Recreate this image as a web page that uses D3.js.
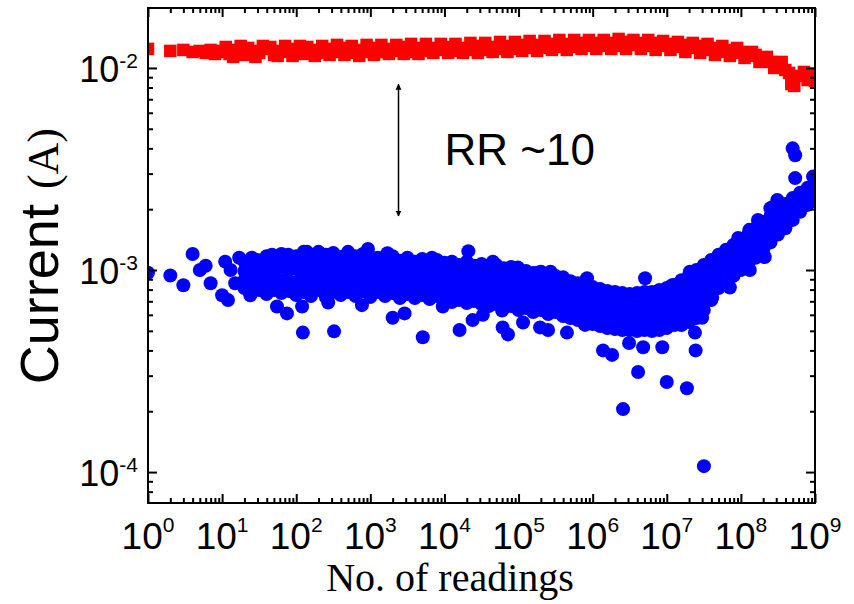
<!DOCTYPE html>
<html>
<head>
<meta charset="utf-8">
<script src="https://cdn.jsdelivr.net/npm/d3@7"></script>
<style>
  html, body { margin: 0; padding: 0; background: #fff; }
  svg { display: block; }
</style>
</head>
<body>
<svg id="chart" width="854" height="604"></svg>
<script>
// ---------------- DATA ----------------
const xDomain = [1, 1e9];
const yDomain = [7.03e-5, 1.98e-2];
const xMajorTicks = [1e0, 1e1, 1e2, 1e3, 1e4, 1e5, 1e6, 1e7, 1e8, 1e9];
const xTickExponents = ["0", "1", "2", "3", "4", "5", "6", "7", "8", "9"];
const yMajorTicks = [1e-4, 1e-3, 1e-2];
const yTickExponents = ["-4", "-3", "-2"];

// Red squares: ON-state current [readings, current (A)]
const redSeries = [
  [1, 1.242e-2], [2, 1.214e-2], [3, 1.228e-2], [4, 1.200e-2], [5, 1.214e-2],
  [6, 1.187e-2], [7, 1.228e-2], [8, 1.173e-2], [9, 1.214e-2],
  [1.00e1, 1.200e-2], [1.26e1, 1.173e-2], [1.58e1, 1.228e-2], [2.00e1, 1.160e-2], [2.51e1, 1.214e-2],
  [3.16e1, 1.187e-2], [3.98e1, 1.242e-2], [5.01e1, 1.160e-2], [6.31e1, 1.214e-2], [7.94e1, 1.200e-2],
  [1.00e2, 1.242e-2], [1.26e2, 1.173e-2], [1.58e2, 1.228e-2], [2.00e2, 1.187e-2], [2.51e2, 1.242e-2],
  [3.16e2, 1.200e-2], [3.98e2, 1.256e-2], [5.01e2, 1.187e-2], [6.31e2, 1.228e-2], [7.94e2, 1.200e-2],
  [1.00e3, 1.256e-2], [1.26e3, 1.200e-2], [1.58e3, 1.242e-2], [2.00e3, 1.214e-2], [2.51e3, 1.270e-2],
  [3.16e3, 1.200e-2], [3.98e3, 1.256e-2], [5.01e3, 1.214e-2], [6.31e3, 1.256e-2], [7.94e3, 1.228e-2],
  [1.00e4, 1.270e-2], [1.26e4, 1.214e-2], [1.58e4, 1.256e-2], [2.00e4, 1.228e-2], [2.51e4, 1.285e-2],
  [3.16e4, 1.228e-2], [3.98e4, 1.270e-2], [5.01e4, 1.242e-2], [6.31e4, 1.285e-2], [7.94e4, 1.242e-2],
  [1.00e5, 1.300e-2], [1.26e5, 1.256e-2], [1.58e5, 1.300e-2], [2.00e5, 1.256e-2], [2.51e5, 1.315e-2],
  [3.16e5, 1.270e-2], [3.98e5, 1.315e-2], [5.01e5, 1.270e-2], [6.31e5, 1.330e-2], [7.94e5, 1.285e-2],
  [1.00e6, 1.330e-2], [1.26e6, 1.285e-2], [1.58e6, 1.330e-2], [2.00e6, 1.285e-2], [2.51e6, 1.345e-2],
  [3.16e6, 1.300e-2], [3.98e6, 1.330e-2], [5.01e6, 1.285e-2], [6.31e6, 1.330e-2], [7.94e6, 1.285e-2],
  [1.00e7, 1.315e-2], [1.26e7, 1.270e-2], [1.58e7, 1.300e-2], [2.00e7, 1.256e-2], [2.51e7, 1.285e-2],
  [3.16e7, 1.228e-2], [3.98e7, 1.256e-2], [5.01e7, 1.200e-2], [6.31e7, 1.228e-2], [7.94e7, 1.187e-2],
  [1.00e8, 1.200e-2], [1.26e8, 1.147e-2], [1.58e8, 1.160e-2], [2.00e8, 1.095e-2], [2.51e8, 1.071e-2],
  [3.16e8, 1.023e-2], [3.98e8, 0.977e-2], [4.47e8, 0.945e-2], [4.79e8, 0.833e-2], [5.01e8, 0.892e-2],
  [5.25e8, 0.815e-2], [6.31e8, 0.913e-2], [7.08e8, 0.955e-2], [7.94e8, 0.872e-2], [8.91e8, 0.934e-2],
  [1.00e9, 0.862e-2],
  // intermediate readings
  [1.12e1, 1.270e-2], [1.41e1, 1.134e-2], [1.78e1, 1.285e-2], [2.24e1, 1.256e-2], [2.82e1, 1.134e-2],
  [3.55e1, 1.285e-2], [4.47e1, 1.270e-2], [5.62e1, 1.147e-2], [7.08e1, 1.285e-2], [8.91e1, 1.147e-2],
  [1.12e2, 1.285e-2], [1.41e2, 1.270e-2], [1.78e2, 1.147e-2], [2.24e2, 1.285e-2], [2.82e2, 1.160e-2],
  [3.55e2, 1.300e-2], [4.47e2, 1.160e-2], [5.62e2, 1.285e-2], [7.08e2, 1.147e-2], [8.91e2, 1.300e-2],
  [1.12e3, 1.160e-2], [1.41e3, 1.300e-2], [1.78e3, 1.173e-2], [2.24e3, 1.300e-2], [2.82e3, 1.173e-2],
  [3.55e3, 1.315e-2], [4.47e3, 1.173e-2], [5.62e3, 1.315e-2], [7.08e3, 1.187e-2], [8.91e3, 1.315e-2],
  [1.12e4, 1.187e-2], [1.41e4, 1.315e-2], [1.78e4, 1.187e-2], [2.24e4, 1.330e-2], [2.82e4, 1.187e-2],
  [3.55e4, 1.330e-2], [4.47e4, 1.200e-2], [5.62e4, 1.345e-2], [7.08e4, 1.200e-2], [8.91e4, 1.345e-2],
  [1.12e5, 1.214e-2], [1.41e5, 1.360e-2], [1.78e5, 1.214e-2], [2.24e5, 1.360e-2], [2.82e5, 1.228e-2],
  [3.55e5, 1.376e-2], [4.47e5, 1.228e-2], [5.62e5, 1.376e-2], [7.08e5, 1.242e-2], [8.91e5, 1.376e-2],
  [1.12e6, 1.242e-2], [1.41e6, 1.376e-2], [1.78e6, 1.242e-2], [2.24e6, 1.392e-2], [2.82e6, 1.242e-2],
  [3.55e6, 1.376e-2], [4.47e6, 1.242e-2], [5.62e6, 1.376e-2], [7.08e6, 1.228e-2], [8.91e6, 1.360e-2],
  [1.12e7, 1.228e-2], [1.41e7, 1.345e-2], [1.78e7, 1.200e-2], [2.24e7, 1.330e-2], [2.82e7, 1.187e-2],
  [3.55e7, 1.315e-2], [4.47e7, 1.160e-2], [5.62e7, 1.285e-2], [7.08e7, 1.147e-2], [8.91e7, 1.256e-2],
  [1.12e8, 1.121e-2], [1.41e8, 1.200e-2], [1.78e8, 1.071e-2], [2.24e8, 1.134e-2], [2.82e8, 1.000e-2],
  [3.55e8, 1.071e-2]
];

// Blue circles: OFF-state current, scattered readings [readings, current (A)]
const blueScatter = [
  [1, 9.7e-4], [2, 9.4e-4], [3, 8.4e-4], [4, 1.20e-3], [5, 1.0e-3], [6, 1.05e-3], [7, 8.6e-4],
  [10, 7.5e-4], [11, 1.10e-3], [12, 7.1e-4], [13, 1.0e-3], [15, 8.6e-4], [17, 1.15e-3],
  [24, 7.5e-4], [30, 1.12e-3], [47, 1.19e-3], [55, 6.6e-4], [75, 6.1e-4], [78, 1.19e-3],
  [120, 6.6e-4], [123, 4.9e-4], [140, 1.23e-3], [270, 6.9e-4], [324, 4.97e-4],
  [770, 6.7e-4], [930, 1.27e-3], [1.7e3, 1.21e-3], [2.0e3, 5.8e-4], [2.9e3, 6.1e-4],
  [5.1e3, 4.65e-4], [6.8e3, 1.15e-3], [9.5e3, 6.6e-4], [1.6e4, 5.05e-4], [2.1e4, 1.24e-3],
  [2.4e4, 5.65e-4], [3.3e4, 6.0e-4], [4.5e4, 1.10e-3], [6.0e4, 6.3e-4], [6.1e4, 5.2e-4],
  [7.2e4, 4.8e-4], [9.8e4, 1.03e-3], [1.15e5, 5.5e-4], [1.8e5, 9.7e-4], [1.95e5, 5.2e-4],
  [2.5e5, 5.05e-4], [2.7e5, 9.8e-4], [4.0e5, 9.2e-4], [4.5e5, 4.9e-4], [7.9e5, 5.35e-4],
  [8.4e5, 9.1e-4], [1.38e6, 4.0e-4], [1.83e6, 3.8e-4], [2.57e6, 2.05e-4], [3.1e6, 4.35e-4],
  [4.1e6, 3.13e-4], [4.8e6, 4.15e-4], [5.1e6, 9.1e-4], [8.7e6, 4.15e-4], [1.0e7, 2.79e-4],
  [1.18e7, 8.4e-4], [1.87e7, 2.6e-4], [2.05e7, 9.8e-4], [2.4e7, 4.9e-4], [2.45e7, 4.0e-4],
  [3.0e7, 5.8e-4], [3.17e7, 1.07e-4], [4.1e7, 7.3e-4], [4.2e7, 1.10e-3], [5.2e7, 1.19e-3],
  [7.1e7, 8.2e-4], [9.2e7, 1.44e-3], [1.3e8, 1.58e-3], [1.32e8, 1.0e-3], [1.7e8, 1.77e-3],
  [2.1e8, 1.16e-3], [2.5e8, 2.02e-3], [2.7e8, 2.05e-3], [3.1e8, 2.22e-3],
  [5.0e8, 4.0e-3], [5.4e8, 3.7e-3], [5.4e8, 2.85e-3], [6.7e8, 2.05e-3], [6.9e8, 2.1e-3],
  [9.1e8, 2.3e-3], [9.4e8, 2.9e-3]
];

// Blue circles: dense band, readings grouped per reading count [readings, [currents (A)]]
const blueBand = [
  [2.00e1, [11.0e-4, 9.9e-4, 8.9e-4, 8.15e-4]],
  [2.51e1, [11.5e-4, 10.1e-4, 8.9e-4, 7.78e-4]],
  [3.16e1, [10.7e-4, 9.7e-4, 8.7e-4, 7.96e-4]],
  [3.98e1, [11.7e-4, 10.1e-4, 8.8e-4, 7.6e-4]],
  [5.01e1, [11.2e-4, 10.0e-4, 8.9e-4, 7.96e-4]],
  [6.31e1, [12.0e-4, 10.35e-4, 8.9e-4, 7.69e-4]],
  [7.94e1, [11.35e-4, 10.0e-4, 8.8e-4, 7.87e-4]],
  [1.00e2, [11.7e-4, 10.1e-4, 8.7e-4, 7.52e-4]],
  [1.26e2, [12.3e-4, 11.0e-4, 9.8e-4, 8.7e-4, 7.78e-4]],
  [1.58e2, [11.6e-4, 10.35e-4, 9.24e-4, 8.24e-4, 7.43e-4]],
  [2.00e2, [12.3e-4, 11.0e-4, 9.9e-4, 8.8e-4, 7.96e-4]],
  [2.51e2, [11.9e-4, 10.6e-4, 9.35e-4, 8.24e-4, 7.35e-4]],
  [3.16e2, [12.15e-4, 10.85e-4, 9.67e-4, 8.6e-4, 7.78e-4]],
  [3.98e2, [11.6e-4, 10.5e-4, 9.35e-4, 8.3e-4, 7.52e-4]],
  [5.01e2, [12.3e-4, 11.0e-4, 9.8e-4, 8.7e-4, 7.78e-4]],
  [6.31e2, [11.7e-4, 10.5e-4, 9.35e-4, 8.3e-4, 7.43e-4]],
  [7.94e2, [12.0e-4, 10.85e-4, 9.8e-4, 8.7e-4, 7.87e-4]],
  [1.00e3, [11.6e-4, 10.35e-4, 9.24e-4, 8.24e-4, 7.35e-4]],
  [1.26e3, [11.5e-4, 10.35e-4, 9.45e-4, 8.5e-4, 7.78e-4]],
  [1.58e3, [11.2e-4, 10.1e-4, 9.1e-4, 8.24e-4, 7.43e-4]],
  [2.00e3, [11.7e-4, 10.6e-4, 9.45e-4, 8.5e-4, 7.69e-4]],
  [2.51e3, [11.1e-4, 10.0e-4, 9.0e-4, 8.05e-4, 7.27e-4]],
  [3.16e3, [11.5e-4, 10.35e-4, 9.35e-4, 8.43e-4, 7.6e-4]],
  [3.98e3, [11.0e-4, 9.9e-4, 8.9e-4, 8.05e-4, 7.27e-4]],
  [5.01e3, [11.35e-4, 10.2e-4, 9.24e-4, 8.3e-4, 7.52e-4]],
  [6.31e3, [11.0e-4, 9.9e-4, 8.9e-4, 7.96e-4, 7.18e-4]],
  [7.94e3, [11.2e-4, 10.1e-4, 9.1e-4, 8.24e-4, 7.43e-4]],
  [1.00e4, [10.85e-4, 9.8e-4, 8.8e-4, 7.87e-4, 7.1e-4]],
  [1.26e4, [11.0e-4, 9.8e-4, 8.7e-4, 7.78e-4, 6.94e-4]],
  [1.58e4, [10.6e-4, 9.6e-4, 8.6e-4, 7.78e-4, 7.1e-4]],
  [2.00e4, [11.0e-4, 9.8e-4, 8.7e-4, 7.69e-4, 6.86e-4]],
  [2.51e4, [10.5e-4, 9.45e-4, 8.5e-4, 7.69e-4, 7.02e-4]],
  [3.16e4, [10.7e-4, 9.6e-4, 8.5e-4, 7.6e-4, 6.79e-4]],
  [3.98e4, [10.35e-4, 9.24e-4, 8.24e-4, 7.35e-4, 6.63e-4]],
  [5.01e4, [10.6e-4, 9.45e-4, 8.43e-4, 7.52e-4, 6.79e-4]],
  [6.31e4, [10.2e-4, 9.1e-4, 8.15e-4, 7.27e-4, 6.49e-4]],
  [7.94e4, [10.35e-4, 9.24e-4, 8.24e-4, 7.35e-4, 6.63e-4]],
  [1.00e5, [10.0e-4, 8.9e-4, 7.96e-4, 7.1e-4, 6.34e-4]],
  [1.26e5, [9.9e-4, 8.9e-4, 7.96e-4, 7.18e-4, 6.49e-4]],
  [1.58e5, [9.67e-4, 8.6e-4, 7.69e-4, 6.86e-4, 6.19e-4]],
  [2.00e5, [9.8e-4, 8.7e-4, 7.87e-4, 7.1e-4, 6.34e-4]],
  [2.51e5, [9.45e-4, 8.43e-4, 7.52e-4, 6.71e-4, 6.06e-4]],
  [3.16e5, [9.35e-4, 8.43e-4, 7.6e-4, 6.86e-4, 6.19e-4]],
  [3.98e5, [9.0e-4, 8.15e-4, 7.27e-4, 6.56e-4, 5.92e-4]],
  [5.01e5, [8.8e-4, 7.96e-4, 7.1e-4, 6.41e-4, 5.78e-4]],
  [6.31e5, [8.6e-4, 7.78e-4, 6.94e-4, 6.26e-4, 5.65e-4]],
  [7.94e5, [8.43e-4, 7.6e-4, 6.86e-4, 6.12e-4, 5.53e-4]],
  [1.00e6, [8.24e-4, 7.43e-4, 6.63e-4, 5.99e-4, 5.40e-4]],
  [1.26e6, [8.05e-4, 7.27e-4, 6.49e-4, 5.85e-4, 5.28e-4]],
  [1.58e6, [7.87e-4, 7.1e-4, 6.34e-4, 5.71e-4, 5.16e-4]],
  [2.00e6, [7.78e-4, 7.02e-4, 6.26e-4, 5.65e-4, 5.10e-4]],
  [2.51e6, [7.69e-4, 6.94e-4, 6.19e-4, 5.59e-4, 5.05e-4]],
  [3.16e6, [7.6e-4, 6.86e-4, 6.19e-4, 5.59e-4, 5.05e-4]],
  [3.98e6, [7.69e-4, 6.94e-4, 6.19e-4, 5.53e-4, 4.99e-4]],
  [5.01e6, [7.78e-4, 7.02e-4, 6.26e-4, 5.65e-4, 5.05e-4]],
  [6.31e6, [7.78e-4, 6.94e-4, 6.19e-4, 5.59e-4, 4.99e-4]],
  [7.94e6, [7.96e-4, 7.1e-4, 6.34e-4, 5.65e-4, 5.05e-4]],
  [1.00e7, [8.15e-4, 7.27e-4, 6.49e-4, 5.78e-4, 5.16e-4]],
  [1.26e7, [8.43e-4, 7.52e-4, 6.71e-4, 5.99e-4, 5.34e-4]],
  [1.58e7, [8.9e-4, 7.87e-4, 6.94e-4, 6.12e-4, 5.34e-4]],
  [2.00e7, [9.45e-4, 8.24e-4, 7.18e-4, 6.26e-4, 5.53e-4]],
  [2.51e7, [10.0e-4, 8.7e-4, 7.6e-4, 6.63e-4, 5.78e-4]],
  [3.16e7, [10.6e-4, 9.35e-4, 8.24e-4, 7.27e-4, 6.34e-4]],
  [3.98e7, [11.2e-4, 10.0e-4, 8.9e-4, 7.96e-4, 7.1e-4]],
  [5.01e7, [11.9e-4, 10.5e-4, 9.24e-4, 8.15e-4]],
  [6.31e7, [12.6e-4, 11.1e-4, 9.8e-4, 8.7e-4]],
  [7.94e7, [13.3e-4, 11.9e-4, 10.5e-4, 9.35e-4]],
  [1.00e8, [14.1e-4, 12.6e-4, 11.2e-4, 10.0e-4]],
  [1.26e8, [15.0e-4, 13.5e-4, 12.0e-4, 10.7e-4]],
  [1.58e8, [16.1e-4, 14.4e-4, 12.9e-4, 11.5e-4]],
  [2.00e8, [17.3e-4, 15.6e-4, 13.9e-4, 12.6e-4]],
  [2.51e8, [18.5e-4, 16.7e-4, 15.0e-4, 13.7e-4]],
  [3.16e8, [19.8e-4, 18.0e-4, 16.4e-4, 15.0e-4]],
  [3.98e8, [21.2e-4, 19.4e-4, 17.7e-4, 16.1e-4]],
  [5.01e8, [22.7e-4, 20.0e-4, 17.7e-4]],
  [6.31e8, [24.1e-4, 21.5e-4, 19.4e-4]],
  [7.94e8, [25.5e-4, 23.0e-4, 21.0e-4]],
  [1.00e9, [26.7e-4, 24.4e-4, 22.2e-4]]
];

// Annotation: resistance ratio arrow and label
const arrowReadings = 2.4e3;
const arrowTop = 8.3e-3;
const arrowBottom = 1.85e-3;
const rrLabel = "RR ~10";
const rrLabelPos = [1.0e4, 3.3e-3];

const xLabel = "No. of readings";
const yLabelMain = "Current ";
const yLabelUnit = "(A)";

// ---------------- CHART ----------------
const svg = d3.select("#chart");
const W = 854, H = 604;
const margin = { left: 148, right: 39, top: 8, bottom: 101 };
const plotW = W - margin.left - margin.right;
const plotH = H - margin.top - margin.bottom;

const x = d3.scaleLog().domain(xDomain).range([margin.left, margin.left + plotW]);
const y = d3.scaleLog().domain(yDomain).range([margin.top + plotH, margin.top]);

const sans = "'Liberation Sans', Arial, Helvetica, sans-serif";
const serif = "'Liberation Serif', 'Times New Roman', Times, serif";

svg.append("rect").attr("width", W).attr("height", H).attr("fill", "#fff");

const defs = svg.append("defs");
defs.append("clipPath").attr("id", "plotclip")
  .append("rect")
  .attr("x", margin.left).attr("y", margin.top)
  .attr("width", plotW).attr("height", plotH);

const plot = svg.append("g").attr("clip-path", "url(#plotclip)");

// red squares
const sq = 12.5;
plot.append("g").selectAll("rect").data(redSeries).join("rect")
  .attr("x", d => x(d[0]) - sq / 2)
  .attr("y", d => y(d[1]) - sq / 2)
  .attr("width", sq).attr("height", sq)
  .attr("fill", "#ff0000");

// blue circles
const bluePoints = blueScatter.concat(blueBand.flatMap(([n, vals]) => vals.map(v => [n, v])));
plot.append("g").selectAll("circle").data(bluePoints).join("circle")
  .attr("cx", d => x(d[0]))
  .attr("cy", d => y(d[1]))
  .attr("r", 7)
  .attr("fill", "#0000ff");

// minor tick values
const xMinor = [];
for (let k = 0; k < 9; k++) for (let m = 2; m <= 9; m++) xMinor.push(m * Math.pow(10, k));
const yMinor = [];
for (let k = -5; k <= -2; k++) for (let m = 2; m <= 9; m++) {
  const v = m * Math.pow(10, k);
  if (v > yDomain[0] && v < yDomain[1]) yMinor.push(v);
}

const majorLen = 9, minorLen = 5;
function styleAxis(g) {
  g.select(".domain").remove();
  g.selectAll("line").attr("stroke", "#000").attr("stroke-width", 2);
  g.selectAll("text").remove();
}
const bottomY = margin.top + plotH, rightX = margin.left + plotW;

svg.append("g").attr("transform", `translate(0,${bottomY})`)
  .call(d3.axisBottom(x).tickValues(xMajorTicks).tickSize(-majorLen).tickFormat("")).call(styleAxis);
svg.append("g").attr("transform", `translate(0,${bottomY})`)
  .call(d3.axisBottom(x).tickValues(xMinor).tickSize(-minorLen).tickFormat("")).call(styleAxis);
svg.append("g").attr("transform", `translate(0,${margin.top})`)
  .call(d3.axisTop(x).tickValues(xMajorTicks).tickSize(-majorLen).tickFormat("")).call(styleAxis);
svg.append("g").attr("transform", `translate(0,${margin.top})`)
  .call(d3.axisTop(x).tickValues(xMinor).tickSize(-minorLen).tickFormat("")).call(styleAxis);
svg.append("g").attr("transform", `translate(${margin.left},0)`)
  .call(d3.axisLeft(y).tickValues(yMajorTicks).tickSize(-majorLen).tickFormat("")).call(styleAxis);
svg.append("g").attr("transform", `translate(${margin.left},0)`)
  .call(d3.axisLeft(y).tickValues(yMinor).tickSize(-minorLen).tickFormat("")).call(styleAxis);
svg.append("g").attr("transform", `translate(${rightX},0)`)
  .call(d3.axisRight(y).tickValues(yMajorTicks).tickSize(-majorLen).tickFormat("")).call(styleAxis);
svg.append("g").attr("transform", `translate(${rightX},0)`)
  .call(d3.axisRight(y).tickValues(yMinor).tickSize(-minorLen).tickFormat("")).call(styleAxis);

// frame
svg.append("rect")
  .attr("x", margin.left).attr("y", margin.top)
  .attr("width", plotW).attr("height", plotH)
  .attr("fill", "none").attr("stroke", "#000").attr("stroke-width", 2);

// x tick labels
const lab = svg.append("g").attr("font-family", sans).attr("fill", "#000");
xMajorTicks.forEach((v, i) => {
  const t = lab.append("text")
    .attr("x", x(v)).attr("y", 549)
    .attr("text-anchor", "middle")
    .attr("font-size", 37);
  t.append("tspan").text("10");
  t.append("tspan").attr("dy", -17).attr("font-size", 21).text(xTickExponents[i]);
});

// y tick labels
yMajorTicks.forEach((v, i) => {
  const t = lab.append("text")
    .attr("x", 138).attr("y", y(v) + 14)
    .attr("text-anchor", "end")
    .attr("font-size", 36);
  t.append("tspan").text("10");
  t.append("tspan").attr("dy", -14).attr("font-size", 21).text(yTickExponents[i]);
});

// axis titles
svg.append("text")
  .attr("x", 450).attr("y", 591)
  .attr("text-anchor", "middle")
  .attr("font-family", serif).attr("font-size", 40)
  .text(xLabel);

const yt = svg.append("text")
  .attr("transform", `translate(58,128) rotate(-90)`)
  .attr("text-anchor", "end")
  .attr("font-family", sans).attr("font-size", 54);
yt.append("tspan").text(yLabelMain);
yt.append("tspan").attr("font-family", serif).attr("font-size", 44).text(yLabelUnit);

// annotation arrow
defs.append("marker").attr("id", "ah").attr("viewBox", "0 0 10 10")
  .attr("refX", 9).attr("refY", 5)
  .attr("markerWidth", 6).attr("markerHeight", 8)
  .attr("markerUnits", "userSpaceOnUse")
  .attr("orient", "auto-start-reverse")
  .append("path").attr("d", "M0,0 L10,5 L0,10 Z").attr("fill", "#000");

svg.append("line")
  .attr("x1", x(arrowReadings)).attr("x2", x(arrowReadings))
  .attr("y1", y(arrowTop)).attr("y2", y(arrowBottom))
  .attr("stroke", "#000").attr("stroke-width", 1.5)
  .attr("marker-start", "url(#ah)").attr("marker-end", "url(#ah)");

svg.append("text")
  .attr("x", x(rrLabelPos[0])).attr("y", y(rrLabelPos[1]))
  .attr("font-family", sans).attr("font-size", 44)
  .text(rrLabel);
</script>
</body>
</html>
